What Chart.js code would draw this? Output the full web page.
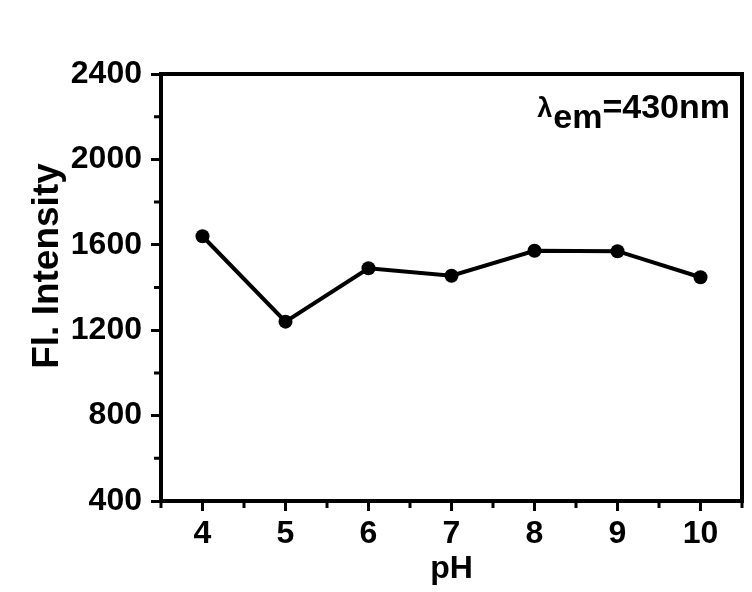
<!DOCTYPE html>
<html>
<head>
<meta charset="utf-8">
<script src="https://cdn.jsdelivr.net/npm/chart.js@4"></script>
<style>
  html, body { margin: 0; padding: 0; background: #fff; }
  canvas { display: block; }
</style>
</head>
<body>
<canvas id="chart" width="752" height="592"></canvas>
<script>
// pH series and the emission intensity read at 430 nm
const phValues = [4, 5, 6, 7, 8, 9, 10];
const intensity = [1640, 1240, 1490, 1455, 1572, 1570, 1448];

const xTicks = [4, 5, 6, 7, 8, 9, 10];
const xMinorTicks = [3.5, 4.5, 5.5, 6.5, 7.5, 8.5, 9.5, 10.5];
const yTicks = [400, 800, 1200, 1600, 2000, 2400];
const yMinorTicks = [600, 1000, 1400, 1800, 2200];

const FONT = "'Liberation Sans', Arial, sans-serif";
const AXIS_W = 4;

// closes the box, adds the short minor ticks and the rotated y title
const framePlugin = {
  id: 'frame',
  afterDraw(chart) {
    const { ctx, chartArea: a, scales } = chart;
    ctx.save();
    ctx.strokeStyle = '#000';
    ctx.lineWidth = AXIS_W;
    ctx.lineCap = 'butt';
    ctx.beginPath();
    ctx.moveTo(a.left - 2, a.top);
    ctx.lineTo(a.right, a.top);
    ctx.lineTo(a.right, a.bottom + 2);
    ctx.stroke();

    ctx.lineWidth = 3;
    ctx.beginPath();
    yMinorTicks.forEach(v => {
      const y = scales.y.getPixelForValue(v);
      ctx.moveTo(a.left, y);
      ctx.lineTo(a.left - 7, y);
    });
    xMinorTicks.forEach(v => {
      const x = scales.x.getPixelForValue(v);
      ctx.moveTo(x, a.bottom);
      ctx.lineTo(x, a.bottom + 7);
    });
    ctx.stroke();

    ctx.translate(58, 266);
    ctx.rotate(-Math.PI / 2);
    ctx.fillStyle = '#000';
    ctx.font = 'bold 37px ' + FONT;
    ctx.textAlign = 'center';
    ctx.textBaseline = 'alphabetic';
    ctx.fillText('Fl. Intensity', 0, 0);
    ctx.restore();
  }
};

// "λem=430nm" note in the upper right corner
const notePlugin = {
  id: 'note',
  afterDraw(chart) {
    const { ctx, chartArea: a } = chart;
    ctx.save();
    ctx.fillStyle = '#000';
    ctx.textBaseline = 'alphabetic';
    const big = 'bold 34px ' + FONT;
    const lam = 'bold 27px ' + FONT;
    ctx.font = big;
    const wMain = ctx.measureText('=430nm').width;
    const wSub = ctx.measureText('em').width;
    ctx.font = lam;
    const wLam = ctx.measureText('λ').width + 1;
    const right = a.right - 12;
    const base = a.top + 44;
    let x = right - wMain - wSub - wLam;
    ctx.fillText('λ', x, base - 1);
    x += wLam;
    ctx.font = big;
    ctx.fillText('em', x, base + 10);
    x += wSub;
    ctx.fillText('=430nm', x, base);
    ctx.restore();
  }
};

const ctx = document.getElementById('chart').getContext('2d');
const chart = new Chart(ctx, {
  type: 'line',
  data: {
    datasets: [{
      data: phValues.map((p, i) => ({ x: p, y: intensity[i] })),
      borderColor: '#000',
      backgroundColor: '#000',
      borderWidth: 4,
      pointRadius: 7,
      pointBackgroundColor: '#000',
      pointBorderWidth: 0,
      tension: 0,
      fill: false,
    }],
  },
  options: {
    responsive: false,
    devicePixelRatio: 1,
    animation: false,
    layout: { padding: { top: 74, right: 10, left: 0, bottom: 0 } },
    plugins: { legend: { display: false }, tooltip: { enabled: false } },
    scales: {
      x: {
        type: 'linear',
        min: 3.5,
        max: 10.5,
        afterBuildTicks: s => { s.ticks = xTicks.map(v => ({ value: v })); },
        afterFit: s => { s.height = 91; },
        border: { color: '#000', width: AXIS_W },
        grid: { drawOnChartArea: false, drawTicks: true, tickLength: 10, tickWidth: 3, tickColor: '#000' },
        ticks: { color: '#000', padding: 4, maxRotation: 0, callback: v => String(v), font: { family: FONT, size: 32, weight: 'bold' } },
        title: { display: true, text: 'pH', color: '#000', padding: { top: 0, bottom: 4 }, font: { family: FONT, size: 32, weight: 'bold' } },
      },
      y: {
        min: 400,
        max: 2400,
        afterBuildTicks: s => { s.ticks = yTicks.map(v => ({ value: v })); },
        afterFit: s => { s.width = 161; },
        border: { color: '#000', width: AXIS_W },
        grid: { drawOnChartArea: false, drawTicks: true, tickLength: 10, tickWidth: 3, tickColor: '#000' },
        ticks: { color: '#000', padding: 9, callback: v => String(v), font: { family: FONT, size: 32, weight: 'bold' } },
      },
    },
  },
  plugins: [framePlugin, notePlugin],
});
</script>
</body>
</html>
